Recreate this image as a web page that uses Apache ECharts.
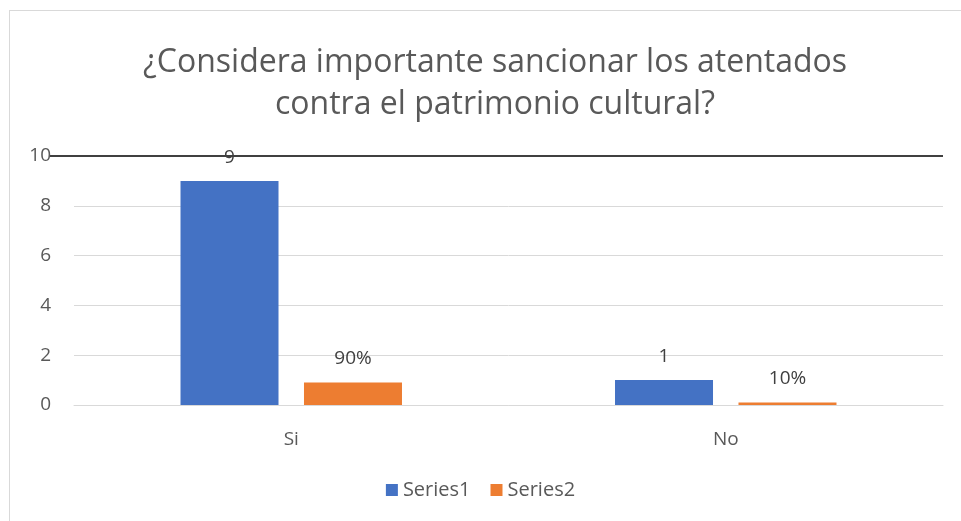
<!DOCTYPE html>
<html>
<head>
<meta charset="utf-8">
<script src="https://cdn.jsdelivr.net/npm/echarts@6/dist/echarts.min.js"></script>
<style>
html,body{margin:0;padding:0;background:#fff;overflow:hidden;}
#frame{position:absolute;left:9px;top:10px;width:980px;height:540px;border:1.5px solid #d9d9d9;box-sizing:border-box;}
#chart{position:absolute;left:0;top:0;width:961px;height:521px;}
</style>
</head>
<body>
<div id="frame"></div>
<div id="chart"></div>
<script>
const titleText = '¿Considera importante sancionar los atentados\ncontra el patrimonio cultural?';
const categories = ['Si', 'No'];
const series1 = [9, 1];
const series2 = [0.9, 0.1];
const seriesNames = ['Series1', 'Series2'];
const yTicks = { min: 0, max: 10, interval: 2 };

const FONT = 'Open Sans';
const TXT = '#595959';
const chart = echarts.init(document.getElementById('chart'));
chart.setOption({
  backgroundColor: 'transparent',
  textStyle: { fontFamily: FONT },
  title: {
    text: titleText,
    left: 490,
    top: 37,
    textAlign: 'center',
    textStyle: { fontFamily: FONT, fontSize: 32, fontWeight: 'normal', color: TXT, lineHeight: 42 }
  },
  legend: {
    data: seriesNames,
    bottom: 16,
    left: 'center',
    itemWidth: 12,
    itemHeight: 12,
    itemGap: 20,
    icon: 'rect',
    textStyle: { fontFamily: FONT, fontSize: 20, color: TXT }
  },
  grid: [
    { left: 74, right: 18, top: 156, bottom: 116 },
    { left: 50, right: 18, top: 156, bottom: 116 }
  ],
  xAxis: [
    {
      type: 'category', data: categories, gridIndex: 0,
      axisLine: { lineStyle: { color: '#d9d9d9' } },
      axisTick: { show: false },
      axisLabel: { fontFamily: FONT, fontSize: 19, color: TXT, margin: 25 }
    },
    { type: 'value', gridIndex: 1, min: 0, max: 1, show: false }
  ],
  yAxis: [
    {
      type: 'value', gridIndex: 0, min: yTicks.min, max: yTicks.max, interval: yTicks.interval,
      axisLine: { show: false }, axisTick: { show: false },
      axisLabel: { fontFamily: FONT, fontSize: 19, color: TXT, margin: 23 },
      splitLine: { lineStyle: { color: '#d9d9d9', width: 1 } }
    },
    {
      type: 'value', gridIndex: 1, min: yTicks.min, max: yTicks.max, interval: yTicks.max,
      axisLine: { show: false }, axisTick: { show: false }, axisLabel: { show: false },
      splitLine: { show: true, lineStyle: { color: ['rgba(0,0,0,0)', '#404040'], width: 2 } }
    }
  ],
  series: [
    {
      name: seriesNames[0], type: 'bar', data: series1,
      xAxisIndex: 0, yAxisIndex: 0,
      barWidth: 98, barGap: '26%',
      itemStyle: { color: '#4472c4' },
      label: { show: true, position: 'top', distance: 14, fontFamily: FONT, fontSize: 19, color: '#404040' }
    },
    {
      name: seriesNames[1], type: 'bar', data: series2,
      xAxisIndex: 0, yAxisIndex: 0,
      barWidth: 98, barGap: '26%',
      itemStyle: { color: '#ed7d31' },
      label: { show: true, position: 'top', distance: 14, fontFamily: FONT, fontSize: 19, color: '#404040',
        formatter: p => Math.round(p.value * 100) + '%' }
    }
  ]
});
</script>
</body>
</html>
